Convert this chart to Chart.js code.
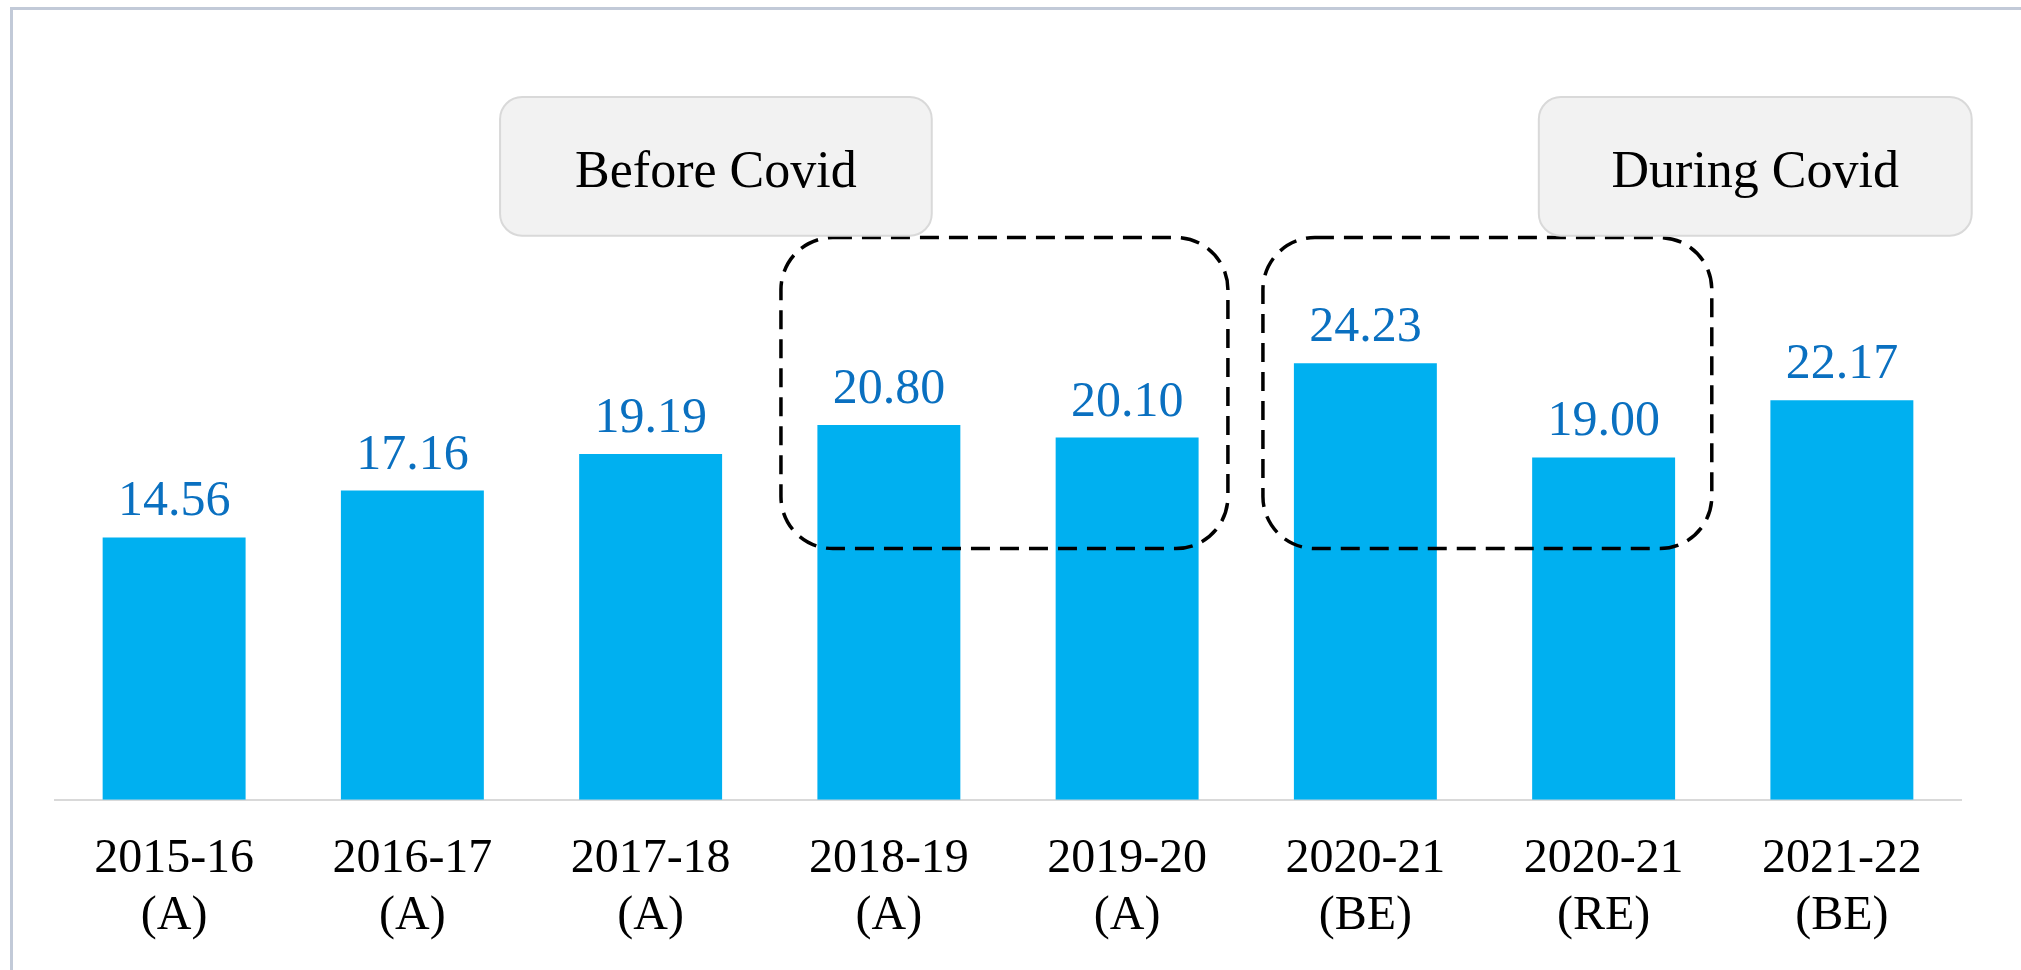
<!DOCTYPE html>
<html>
<head>
<meta charset="utf-8">
<script src="https://cdn.jsdelivr.net/npm/chart.js@4.4.1/dist/chart.umd.min.js"></script>
<style>
  html, body { margin: 0; padding: 0; background: #fff; }
  #wrap { position: relative; width: 2021px; height: 970px; overflow: hidden; }
  #frame { position: absolute; left: 10px; top: 7px; right: -10px; bottom: -10px;
           border-left: 3px solid #c2cad8; border-top: 3px solid #c2cad8; }
  canvas { position: absolute; left: 0; top: 0; }
</style>
</head>
<body>
<div id="wrap">
  <div id="frame"></div>
  <canvas id="chart" width="2021" height="1010"></canvas>
</div>
<script>
// Years and status (A = actual, BE = budget estimate, RE = revised estimate)
const years = ['2015-16', '2016-17', '2017-18', '2018-19', '2019-20', '2020-21', '2020-21', '2021-22'];
const stages = ['(A)', '(A)', '(A)', '(A)', '(A)', '(BE)', '(RE)', '(BE)'];
const values = [14.56, 17.16, 19.19, 20.80, 20.10, 24.23, 19.00, 22.17];

const SERIF = '"Liberation Serif", "DejaVu Serif", serif';

// annotation boxes, in scale units (category index / value)
const dashedBoxes = [
    { x0: 2.547, x1: 4.423, y0: 13.94, y1: 31.2 },
    { x0: 4.57, x1: 6.454, y0: 13.94, y1: 31.2 }
];
const tagBoxes = [
    { text: 'Before Covid', x0: 1.368, x1: 3.18, y0: 31.3, y1: 39.0 },
    { text: 'During Covid', x0: 5.728, x1: 7.545, y0: 31.3, y1: 39.0 }
];

function roundRect(ctx, x, y, w, h, r) {
    ctx.beginPath();
    ctx.moveTo(x + r, y);
    ctx.lineTo(x + w - r, y);
    ctx.arcTo(x + w, y, x + w, y + r, r);
    ctx.lineTo(x + w, y + h - r);
    ctx.arcTo(x + w, y + h, x + w - r, y + h, r);
    ctx.lineTo(x + r, y + h);
    ctx.arcTo(x, y + h, x, y + h - r, r);
    ctx.lineTo(x, y + r);
    ctx.arcTo(x, y, x + r, y, r);
    ctx.closePath();
}

const overlay = {
    id: 'overlay',
    afterDatasetsDraw(chart) {
        const ctx = chart.ctx;
        const xs = chart.scales.x, ys = chart.scales.y;
        const px = v => xs.getPixelForValue(v);
        const py = v => ys.getPixelForValue(v);

        // value labels above bars
        const meta = chart.getDatasetMeta(0);
        ctx.save();
        ctx.fillStyle = '#0a70c0';
        ctx.font = '50px ' + SERIF;
        ctx.textAlign = 'center';
        ctx.textBaseline = 'alphabetic';
        meta.data.forEach((bar, i) => {
            ctx.fillText(values[i].toFixed(2), bar.x, bar.y - 22);
        });
        ctx.restore();

        // dashed group boxes
        ctx.save();
        ctx.strokeStyle = '#000';
        ctx.lineWidth = 3.5;
        ctx.setLineDash([19, 10]);
        dashedBoxes.forEach(b => {
            const x = px(b.x0), y = py(b.y1);
            roundRect(ctx, x, y, px(b.x1) - x, py(b.y0) - y, 52);
            ctx.stroke();
        });
        ctx.restore();

        // grey tags
        ctx.save();
        tagBoxes.forEach(b => {
            const x = px(b.x0), y = py(b.y1);
            const w = px(b.x1) - x, h = py(b.y0) - y;
            roundRect(ctx, x, y, w, h, 22);
            ctx.fillStyle = '#f2f2f2';
            ctx.fill();
            ctx.strokeStyle = '#d9d9d9';
            ctx.lineWidth = 2;
            ctx.stroke();
            ctx.fillStyle = '#000';
            ctx.font = '52px ' + SERIF;
            ctx.textAlign = 'center';
            ctx.textBaseline = 'alphabetic';
            ctx.fillText(b.text, x + w / 2, y + 90);
        });
        ctx.restore();
    }
};

new Chart(document.getElementById('chart'), {
    type: 'bar',
    data: {
        labels: years.map((y, i) => [y, stages[i]]),
        datasets: [{
            data: values,
            backgroundColor: '#00b0f0',
            borderWidth: 0,
            barPercentage: 0.6,
            categoryPercentage: 1.0
        }]
    },
    options: {
        responsive: false,
        animation: false,
        layout: { padding: { left: 55, right: 60, top: 79, bottom: 34 } },
        plugins: { legend: { display: false }, tooltip: { enabled: false } },
        scales: {
            x: {
                grid: { display: false, drawTicks: false },
                border: { display: true, color: '#d9d9d9', width: 2 },
                ticks: {
                    color: '#000',
                    padding: 31,
                    maxRotation: 0,
                    autoSkip: false,
                    font: { family: SERIF, size: 48, lineHeight: 1.19 }
                }
            },
            y: {
                display: false,
                min: 0,
                max: 40
            }
        }
    },
    plugins: [overlay]
});
</script>
</body>
</html>
